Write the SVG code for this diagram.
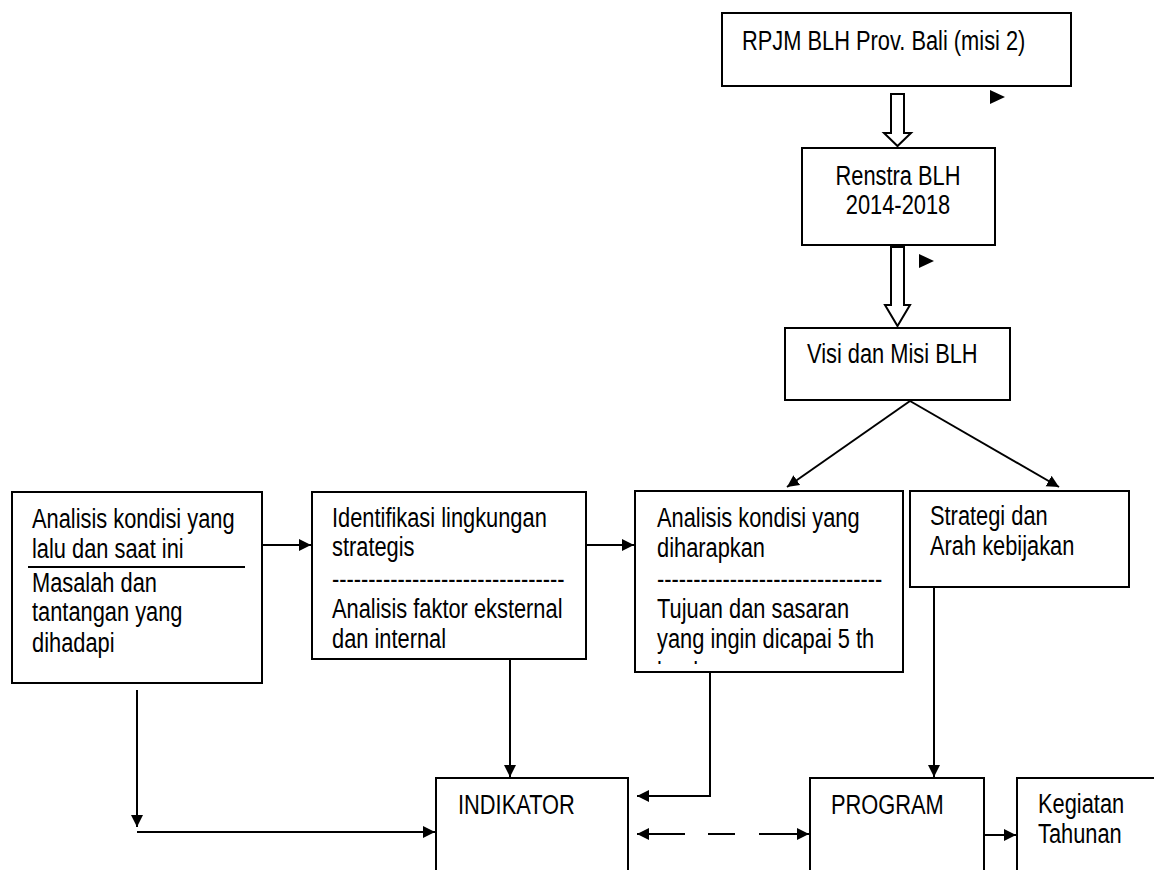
<svg xmlns="http://www.w3.org/2000/svg" width="1154" height="870" viewBox="0 0 1154 870">
<style>
.box{fill:#fff;stroke:#000;stroke-width:2}
.t{font-family:"Liberation Sans",Arial,sans-serif;font-size:28px;fill:#000}
.c{fill:none;stroke:#000;stroke-width:2}
.hollow{fill:#fff;stroke:#000;stroke-width:2;stroke-linejoin:miter}
</style>
<defs>
<marker id="ah" markerUnits="userSpaceOnUse" markerWidth="14" markerHeight="14" refX="12" refY="6" orient="auto-start-reverse">
<path d="M0,0 L12,6 L0,12 z" fill="#000"/>
</marker>
<clipPath id="clip3"><rect x="636" y="492" width="266" height="172"/></clipPath>
</defs>
<rect width="1154" height="870" fill="#fff"/>

<g id="connectors">
<polygon class="hollow" points="891,94 904,94 904,133 911,133 897.5,146 884,133 891,133"/>
<polygon class="hollow" points="891,247 904,247 904,305 910,305 897.5,326 885,305 891,305"/>
<polygon points="990,90 1005,97 990,104" fill="#000"/>
<polygon points="919,254 934,261 919,268" fill="#000"/>
<line class="c" x1="262" y1="545" x2="311" y2="545" marker-end="url(#ah)"/>
<line class="c" x1="586" y1="545" x2="634" y2="545" marker-end="url(#ah)"/>
<line class="c" x1="910" y1="401" x2="787" y2="487" marker-end="url(#ah)"/>
<line class="c" x1="910" y1="401" x2="1059" y2="487" marker-end="url(#ah)"/>
<line class="c" x1="510" y1="659" x2="510" y2="777" marker-end="url(#ah)"/>
<line class="c" x1="137" y1="690" x2="137" y2="827" marker-end="url(#ah)"/>
<line class="c" x1="137" y1="832" x2="435" y2="832" marker-end="url(#ah)"/>
<path class="c" d="M710 672 V796 H637" marker-end="url(#ah)"/>
<line class="c" x1="934" y1="586" x2="934" y2="777" marker-end="url(#ah)"/>
<path class="c" d="M637 834 H685 M708 834 H735 M759 834 H809" marker-start="url(#ah)" marker-end="url(#ah)"/>
<line class="c" x1="984" y1="835" x2="1016" y2="835" marker-end="url(#ah)"/>
</g>

<g id="rpjm">
<rect class="box" x="722" y="13" width="349" height="73"/>
<text class="t" transform="translate(742 50) scale(0.78 1)">RPJM BLH Prov. Bali (misi 2)</text>
</g>

<g id="renstra">
<rect class="box" x="802" y="148" width="193" height="97"/>
<text class="t" text-anchor="middle" transform="translate(898 185) scale(0.78 1)">Renstra BLH</text>
<text class="t" text-anchor="middle" transform="translate(898 214) scale(0.78 1)">2014-2018</text>
</g>

<g id="visi">
<rect class="box" x="785" y="328" width="225" height="72"/>
<text class="t" transform="translate(807 363) scale(0.78 1)">Visi dan Misi BLH</text>
</g>

<g id="kondisi-lalu">
<rect class="box" x="12" y="492" width="250" height="191"/>
<text class="t" transform="translate(32 528) scale(0.78 1)">Analisis kondisi yang</text>
<text class="t" transform="translate(32 558) scale(0.78 1)">lalu dan saat ini</text>
<line x1="28" y1="567" x2="245" y2="567" stroke="#000" stroke-width="2"/>
<text class="t" transform="translate(32 592) scale(0.78 1)">Masalah dan</text>
<text class="t" transform="translate(32 621) scale(0.78 1)">tantangan yang</text>
<text class="t" transform="translate(32 652) scale(0.78 1)">dihadapi</text>
</g>

<g id="identifikasi">
<rect class="box" x="312" y="492" width="274" height="167"/>
<text class="t" transform="translate(332 527) scale(0.78 1)">Identifikasi lingkungan</text>
<text class="t" transform="translate(332 556) scale(0.78 1)">strategis</text>
<text class="t" transform="translate(332 588) scale(0.78 1)">--------------------------------</text>
<text class="t" transform="translate(332 618) scale(0.78 1)">Analisis faktor eksternal</text>
<text class="t" transform="translate(332 648) scale(0.78 1)">dan internal</text>
</g>

<g id="kondisi-harapan">
<rect class="box" x="635" y="491" width="268" height="181"/>
<g clip-path="url(#clip3)">
<text class="t" transform="translate(657 527) scale(0.78 1)">Analisis kondisi yang</text>
<text class="t" transform="translate(657 557) scale(0.78 1)">diharapkan</text>
<text class="t" transform="translate(657 588) scale(0.78 1)">-------------------------------</text>
<text class="t" transform="translate(657 618) scale(0.78 1)">Tujuan dan sasaran</text>
<text class="t" transform="translate(657 648) scale(0.78 1)">yang ingin dicapai 5 th</text>
<text class="t" transform="translate(657 681) scale(0.78 1)">ke depan</text>
</g>
</g>

<g id="strategi">
<rect class="box" x="910" y="491" width="219" height="96"/>
<text class="t" transform="translate(930 525) scale(0.78 1)">Strategi dan</text>
<text class="t" transform="translate(930 555) scale(0.78 1)">Arah kebijakan</text>
</g>

<g id="indikator">
<rect class="box" x="436" y="778" width="192" height="110"/>
<text class="t" transform="translate(458 814) scale(0.78 1)">INDIKATOR</text>
</g>

<g id="program">
<rect class="box" x="810" y="778" width="174" height="110"/>
<text class="t" transform="translate(831 814) scale(0.78 1)">PROGRAM</text>
</g>

<g id="kegiatan">
<rect class="box" x="1017" y="778" width="160" height="110"/>
<text class="t" transform="translate(1038 813) scale(0.78 1)">Kegiatan</text>
<text class="t" transform="translate(1038 843) scale(0.78 1)">Tahunan</text>
</g>
</svg>
